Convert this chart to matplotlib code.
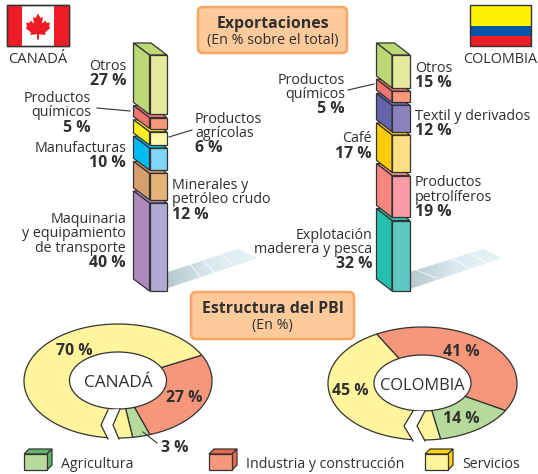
"""Exportaciones and Estructura del PBI for Canada and Colombia."""
import matplotlib

matplotlib.use("Agg")
import matplotlib.pyplot as plt
import numpy as np
from matplotlib.patches import FancyBboxPatch, Polygon, Rectangle

plt.rcParams["font.family"] = ["Open Sans", "DejaVu Sans"]

# Data
CANADA_EXPORT_NAMES = ["Otros", "Productos\nquímicos", "Productos\nagrícolas", "Manufacturas",
                       "Minerales y\npetróleo crudo", "Maquinaria\ny equipamiento\nde transporte"]
CANADA_EXPORT_VALUES = [27, 5, 6, 10, 12, 40]
COLOMBIA_EXPORT_NAMES = ["Otros", "Productos\nquímicos", "Textil y derivados", "Café",
                         "Productos\npetrolíferos", "Explotación\nmaderera y pesca"]
COLOMBIA_EXPORT_VALUES = [15, 5, 12, 17, 19, 32]
PBI_SECTORS = ["Industria y construcción", "Agricultura", "Servicios"]
CANADA_PBI = [27, 3, 70]
COLOMBIA_PBI = [41, 14, 45]

# Styles: (side, front)
CANADA_COLORS = [("#bcd774", "#e6ea9e"), ("#ee7470", "#f8987a"), ("#ffee22", "#fff8a8"),
                 ("#00bdf2", "#7fd5f7"), ("#d69f6d", "#e6b477"), ("#b08abf", "#aeaad2")]
COLOMBIA_COLORS = [("#bcd774", "#e6ea9e"), ("#ee7470", "#f8987a"), ("#6464ac", "#8a82bd"),
                   ("#ffcc05", "#ffdf80"), ("#f68780", "#fa9aa5"), ("#25bfae", "#5cc8c0")]
SECTOR_COLORS = {"Industria y construcción": "#f6967a", "Agricultura": "#b6d99c",
                 "Servicios": "#fff59d"}
LEGEND_TOPS = {"Industria y construcción": "#ee6a4c", "Agricultura": "#63b46c",
               "Servicios": "#ffd400"}
INK = "#2f2f2f"
LINE = "#333333"
PX_PER_PCT = 2.2
GAP = 3.2


def _label(ax, x, y, name, pct, ha):
    n = name.count("\n") + 1
    ax.text(x, y, name, ha=ha, va="top", fontsize=10.3, color=INK, linespacing=0.95)
    ax.text(x, y + n * 14.6 - 0.5, f"{pct} %", ha=ha, va="top", fontsize=11.4,
            fontweight="bold", color=INK)


def _stack(ax, x0, x1, x2, values, colors):
    # bottom brick first, each upper brick hides most of the top face below it
    heights = [v * PX_PER_PCT for v in values]
    bot = 55.0 + sum(heights) + GAP * (len(values) - 1)
    for h, (side, front) in zip(heights[::-1], colors[::-1]):
        y = bot - h
        ax.add_patch(Polygon([(x0, y - 12), (x0 + x2 - x1, y - 12), (x2, y), (x1, y)],
                             fc=side, ec=LINE, lw=0.9, zorder=3))
        ax.add_patch(Polygon([(x0, y - 12), (x1, y), (x1, bot), (x0, bot - 12)],
                             fc=side, ec=LINE, lw=0.9, zorder=3))
        ax.add_patch(Rectangle((x1, y), x2 - x1, h, fc=front, ec=LINE, lw=0.9, zorder=3))
        bot = y - GAP


def _shadow(ax, pts, stripes):
    grad = np.linspace(0, 1, 64).reshape(1, -1)
    cmap = matplotlib.colors.LinearSegmentedColormap.from_list(
        "sh", ["#b5c9cf", "#dcebef", "#e8f4f6"])
    xs = [p[0] for p in pts]
    ys = [p[1] for p in pts]
    im = ax.imshow(grad, cmap=cmap, aspect="auto", zorder=1,
                   extent=(min(xs), max(xs), max(ys), min(ys)))
    im.set_clip_path(Polygon(pts, transform=ax.transData))
    for (xa, ya, xb, yb) in stripes:
        ax.plot([xa, xb], [ya, yb], color="white", lw=0.7, alpha=0.8, zorder=2)


def _ring_xy(cx, cy, rx, ry, t):
    return cx + rx * np.cos(t), cy + ry * np.sin(t)


def _donut(ax, outer, inner, values, start, name, notch, size):
    a = np.radians(start)
    for val, sector in zip(values, PBI_SECTORS):
        b = a + np.radians(val * 3.6)
        t = np.linspace(a, b, 120)
        ox, oy = _ring_xy(*outer, t)
        ix, iy = _ring_xy(*inner, t[::-1])
        ax.add_patch(Polygon(np.column_stack([np.r_[ox, ix], np.r_[oy, iy]]),
                             fc=SECTOR_COLORS[sector], ec=LINE, lw=0.9, zorder=3))
        a = b
    # the cut in the ring at the bottom
    left, right = notch
    ax.add_patch(Polygon(left + right[::-1], fc="white", ec="none", zorder=4))
    for side in (left, right):
        ax.plot(*zip(*side), color=LINE, lw=0.9, zorder=5)
    ax.text(inner[0], inner[1] + 2.5, name, ha="center", va="center", fontsize=size,
            color=INK, zorder=6)


def _title_box(ax, x0, y0, x1, y1, title, sub):
    ax.add_patch(FancyBboxPatch((x0 + 4, y0 + 4), x1 - x0 - 8, y1 - y0 - 8,
                                boxstyle="round,pad=4,rounding_size=5", fc="#fdcb9b",
                                ec="#f7a563", lw=1.8, zorder=2))
    xc = (x0 + x1) / 2
    ax.text(xc, y0 + 17, title, ha="center", va="center", fontsize=11.4,
            fontweight="bold", color=INK, zorder=3)
    ax.text(xc, y0 + 33.5, sub, ha="center", va="center", fontsize=10.3, color=INK, zorder=3)


def _cube(ax, x, y, sector):
    w, h, d = 23, 16, 5
    ax.add_patch(Polygon([(x, y), (x + d, y - d), (x + w + d, y - d), (x + w, y)],
                         fc=LEGEND_TOPS[sector], ec=LINE, lw=0.9, zorder=3))
    ax.add_patch(Polygon([(x + w, y), (x + w + d, y - d), (x + w + d, y + h - d), (x + w, y + h)],
                         fc=LEGEND_TOPS[sector], ec=LINE, lw=0.9, zorder=3))
    ax.add_patch(Rectangle((x, y), w, h, fc=SECTOR_COLORS[sector], ec=LINE, lw=0.9, zorder=3))
    ax.text(x + w + 14, y + 11, sector, ha="left", va="center", fontsize=10.2, color=INK)


def _flags(ax):
    ax.add_patch(Rectangle((7, 5), 62, 41, fc="white", ec=LINE, lw=1, zorder=3))
    ax.add_patch(Rectangle((7, 5), 15, 41, fc="#ee1c25", ec="none", zorder=3))
    ax.add_patch(Rectangle((54, 5), 15, 41, fc="#ee1c25", ec="none", zorder=3))
    leaf = [(38, 13.5), (40.5, 18), (43, 17), (42, 23.5), (45.5, 20.5), (46.5, 23), (50, 22.5),
            (49, 27), (50.5, 28), (45, 32.5), (45.8, 35), (39, 34.2), (39, 39.5), (37, 39.5),
            (37, 34.2), (30.2, 35), (31, 32.5), (25.5, 28), (27, 27), (26, 22.5), (29.5, 23),
            (30.5, 20.5), (34, 23.5), (33, 17), (35.5, 18)]
    ax.add_patch(Polygon(leaf, fc="#ee1c25", ec="none", zorder=4))
    ax.add_patch(Rectangle((7, 5), 62, 41, fc="none", ec=LINE, lw=1, zorder=5))
    ax.add_patch(Rectangle((469.5, 5), 61, 21, fc="#fff200", ec="none", zorder=3))
    ax.add_patch(Rectangle((469.5, 26), 61, 10, fc="#0054a6", ec="none", zorder=3))
    ax.add_patch(Rectangle((469.5, 36), 61, 10, fc="#ee1c25", ec="none", zorder=3))
    ax.add_patch(Rectangle((469.5, 5), 61, 41, fc="none", ec=LINE, lw=1, zorder=5))
    ax.text(38, 59, "CANADÁ", ha="center", va="center", fontsize=10.6, color=INK)
    ax.text(500.5, 59, "COLOMBIA", ha="center", va="center", fontsize=10.4, color=INK)


def main():
    fig = plt.figure(figsize=(5.38, 4.74), dpi=100)
    ax = fig.add_axes([0, 0, 1, 1])
    ax.set_xlim(0, 538)
    ax.set_ylim(474, 0)
    ax.axis("off")

    _flags(ax)
    _title_box(ax, 198, 7, 347, 53, "Exportaciones", "(En % sobre el total)")
    _title_box(ax, 191, 292, 354, 339, "Estructura del PBI", "(En %)")

    _shadow(ax, [(168, 272), (238, 249), (258, 258), (168, 288)],
            [(190, 264, 200, 276), (203, 260, 214, 272), (221, 254, 232, 264)])
    _shadow(ax, [(410, 272), (483, 249), (502, 258), (410, 289)],
            [(416, 270, 436, 278), (452, 259, 470, 268), (468, 253, 486, 262)])
    _stack(ax, 133.5, 149.5, 167, CANADA_EXPORT_VALUES, CANADA_COLORS)
    _stack(ax, 376.5, 392, 410, COLOMBIA_EXPORT_VALUES, COLOMBIA_COLORS)

    # (x, y, ha) of each export label, same order as the data
    canada_pos = [(126, 58.5, "right"), (91, 91, "right"), (195, 111.5, "left"),
                  (126, 140.5, "right"), (172, 178, "left"), (126, 212, "right")]
    colombia_pos = [(415, 60.5, "left"), (345, 72.5, "right"), (415, 109, "left"),
                    (372, 131.5, "right"), (415, 175.5, "left"), (372, 227.5, "right")]
    for pos, names, vals in ((canada_pos, CANADA_EXPORT_NAMES, CANADA_EXPORT_VALUES),
                             (colombia_pos, COLOMBIA_EXPORT_NAMES, COLOMBIA_EXPORT_VALUES)):
        for (x, y, ha), name, val in zip(pos, names, vals):
            _label(ax, x, y, name, val, ha)

    for xa, ya, xb, yb in [(97, 108, 130, 111), (169, 137, 192, 130), (348, 90, 374, 84),
                           (143, 432, 157, 443)]:
        ax.plot([xa, xb], [ya, yb], color=LINE, lw=0.8, zorder=6)

    _donut(ax, (118, 381, 94, 57), (118, 380.5, 48.5, 28.5), CANADA_PBI, -27, "CANADÁ",
           ([(108, 410), (101, 425), (108, 439)], [(120, 409), (113, 425), (119, 439)]), 12.4)
    _donut(ax, (422.5, 383.5, 94.5, 56.5), (422.5, 383, 48.5, 28), COLOMBIA_PBI, -119, "COLOMBIA",
           ([(413, 411), (404, 426), (413, 441)], [(425, 411), (417, 426), (425, 441)]), 11.8)

    # values on the rings, same order as the data
    ring_labels = [(184, 398, CANADA_PBI[0]), (175, 448, CANADA_PBI[1]), (74, 351, CANADA_PBI[2]),
                   (461, 351.5, COLOMBIA_PBI[0]), (461, 419, COLOMBIA_PBI[1]),
                   (350, 391, COLOMBIA_PBI[2])]
    for x, y, val in ring_labels:
        ax.text(x, y, f"{val} %", ha="center", va="center", fontsize=11.4,
                fontweight="bold", color=INK, zorder=7)

    _cube(ax, 24, 454, "Agricultura")
    _cube(ax, 209, 454, "Industria y construcción")
    _cube(ax, 425, 454, "Servicios")

    ax.set_xlim(0, 538)
    ax.set_ylim(474, 0)
    fig.savefig("out.png", dpi=100, facecolor="white")
    plt.close(fig)


if __name__ == "__main__":
    main()
